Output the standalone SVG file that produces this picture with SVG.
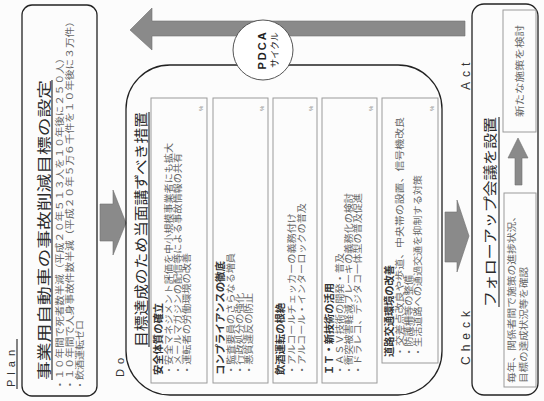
<svg xmlns="http://www.w3.org/2000/svg" width="544" height="401" viewBox="0 0 544 401">
<style>
.box{fill:none;stroke:#222;stroke-width:1.3}
.sub{fill:none;stroke:#9a9a9a;stroke-width:1}
.arr{fill:#8a8a8a;stroke:#6e6e6e;stroke-width:0.6}
.t{font-family:"Noto Sans CJK JP",sans-serif;fill:#2a2a2a;font-size:14px}
.b{font-family:"Noto Sans CJK JP",sans-serif;fill:#666;font-size:9px}
.h{font-family:"Noto Sans CJK JP",sans-serif;fill:#333;font-size:10px;font-weight:bold}
.lab{font-family:"Liberation Sans",sans-serif;font-size:11px;fill:#333;letter-spacing:5px}
.ul{stroke:#333;stroke-width:1.2}
.mk{font-family:"Liberation Sans",sans-serif;font-size:6px;fill:#888}
</style>
<rect width="544" height="401" fill="#fcfcfc"/>
<g transform="translate(0,401) rotate(-90)">
<g id="connectors">
<polygon class="arr" points="365,465 365,152 351,152 371,130 393,152 380,152 380,465"/>
<polygon class="arr" points="160,100 197,100 197,113 211,113 178,126 146,113 160,113"/>
<polygon class="arr" points="139,445 189,445 189,457 201,457 165,469 129,457 139,457"/>
<polygon class="arr" points="216,515 243,515 243,508 263,518 243,528 243,522 216,522"/>
</g>
<g id="plan">
<rect class="box" x="5" y="22" width="391" height="75" rx="10"/>
<text class="lab" x="14" y="15">Plan</text>
<line class="ul" x1="12" y1="17" x2="62" y2="17"/>
<text class="t" x="21" y="48.5" textLength="300" lengthAdjust="spacingAndGlyphs">事業用自動車の事故削減目標の設定</text>
<line class="ul" x1="21" y1="52" x2="321" y2="52"/>
<text class="b" x="11" y="63" textLength="337" lengthAdjust="spacingAndGlyphs">・１０年間で死者数半減（平成２０年５１３人を１０年後に２５０人）</text>
<text class="b" x="11" y="73" textLength="374" lengthAdjust="spacingAndGlyphs">・１０年間で人身事故件数半減（平成２０年５万６千件を１０年後に３万件）</text>
<text class="b" x="11" y="83" textLength="70" lengthAdjust="spacingAndGlyphs">・飲酒運転ゼロ</text>
</g>
<g id="do">
<rect class="box" x="6" y="126" width="330" height="316" rx="44"/>
<text class="lab" x="24" y="124">Do</text>
<text class="t" x="54" y="145.5" textLength="235" lengthAdjust="spacingAndGlyphs">目標達成のため当面講ずべき措置</text>
<line class="ul" x1="54" y1="149" x2="289" y2="149"/>
<g id="do-safety">
<rect class="sub" x="18" y="151" width="285" height="56"/>
<text class="h" x="26" y="162" textLength="72" lengthAdjust="spacingAndGlyphs">安全体質の確立</text>
<text class="b" x="26" y="172" textLength="232" lengthAdjust="spacingAndGlyphs">・安全マネジメント評価を中小規模事業者にも拡大</text>
<text class="b" x="26" y="181" textLength="222" lengthAdjust="spacingAndGlyphs">・メールマガジンの配信等による事故情報の共有</text>
<text class="b" x="26" y="190" textLength="122" lengthAdjust="spacingAndGlyphs">・運転者の労働環境の改善</text>
<text class="mk" x="290" y="203">%</text>
</g>
<g id="do-compliance">
<rect class="sub" x="18" y="213" width="285" height="55"/>
<text class="h" x="26" y="224" textLength="114" lengthAdjust="spacingAndGlyphs">コンプライアンスの徹底</text>
<text class="b" x="26" y="234" textLength="122" lengthAdjust="spacingAndGlyphs">・監査要員のさらなる増員</text>
<text class="b" x="26" y="243" textLength="82" lengthAdjust="spacingAndGlyphs">・行政処分の強化</text>
<text class="b" x="26" y="252" textLength="82" lengthAdjust="spacingAndGlyphs">・悪質違反の防止</text>
<text class="mk" x="290" y="264">%</text>
</g>
<g id="do-alcohol">
<rect class="sub" x="18" y="273" width="285" height="44"/>
<text class="h" x="26" y="284" textLength="72" lengthAdjust="spacingAndGlyphs">飲酒運転の根絶</text>
<text class="b" x="26" y="295" textLength="162" lengthAdjust="spacingAndGlyphs">・アルコールチェッカーの義務付け</text>
<text class="b" x="26" y="305" textLength="172" lengthAdjust="spacingAndGlyphs">・アルコール・インターロックの普及</text>
<text class="mk" x="290" y="313">%</text>
</g>
<g id="do-it">
<rect class="sub" x="18" y="322" width="285" height="55"/>
<text class="h" x="26" y="333" textLength="92" lengthAdjust="spacingAndGlyphs">ＩＴ・新技術の活用</text>
<text class="b" x="26" y="343" textLength="122" lengthAdjust="spacingAndGlyphs">・ＡＳＶ技術の開発・普及</text>
<text class="b" x="26" y="352" textLength="182" lengthAdjust="spacingAndGlyphs">・衝突被害軽減ブレーキの義務化の検討</text>
<text class="b" x="26" y="361" textLength="182" lengthAdjust="spacingAndGlyphs">・ドラレコ、デジタコ一体型の普及促進</text>
<text class="mk" x="290" y="373">%</text>
</g>
<g id="do-road">
<rect class="sub" x="38" y="382" width="265" height="56"/>
<text class="h" x="44" y="393" textLength="92" lengthAdjust="spacingAndGlyphs">道路交通環境の改善</text>
<text class="b" x="44" y="403" textLength="240" lengthAdjust="spacingAndGlyphs">・交差点改良や歩道、中央帯の設置、信号機改良</text>
<text class="b" x="44" y="412" textLength="82" lengthAdjust="spacingAndGlyphs">・防護柵等の整備</text>
<text class="b" x="44" y="421" textLength="182" lengthAdjust="spacingAndGlyphs">・生活道路への通過交通を抑制する対策</text>
<text class="mk" x="290" y="434">%</text>
</g>
</g>
<g id="pdca">
<circle cx="351" cy="263" r="30" fill="#fff" stroke="#555" stroke-width="1"/>
<text x="351" y="266" text-anchor="middle" font-family="Liberation Sans,sans-serif" font-weight="bold" font-size="11" letter-spacing="2" fill="#222">PDCA</text>
<text x="351" y="278" text-anchor="middle" font-family="Noto Sans CJK JP,sans-serif" font-size="9" fill="#222">サイクル</text>
</g>
<g id="check-act">
<rect class="box" x="6" y="472" width="391" height="66" rx="12"/>
<text class="lab" x="36" y="470" style="font-size:12px">Check</text>
<text class="lab" x="311" y="470" style="font-size:12px">Act</text>
<text class="t" x="94" y="495" textLength="190" lengthAdjust="spacingAndGlyphs">フォローアップ会議を設置</text>
<line class="ul" x1="94" y1="499" x2="284" y2="499"/>
<g id="check-box">
<rect class="sub" x="14" y="504" width="194" height="32"/>
<text class="b" x="18" y="515" textLength="172" lengthAdjust="spacingAndGlyphs">毎年、関係者間で施策の進捗状況、</text>
<text class="b" x="18" y="527" textLength="116" lengthAdjust="spacingAndGlyphs">目標の達成状況等を確認</text>
</g>
<g id="act-box">
<rect class="sub" x="269" y="503" width="122" height="33"/>
<text class="b" x="330" y="523" text-anchor="middle" textLength="92" lengthAdjust="spacingAndGlyphs">新たな施策を検討</text>
</g>
</g>
</g>
</svg>
